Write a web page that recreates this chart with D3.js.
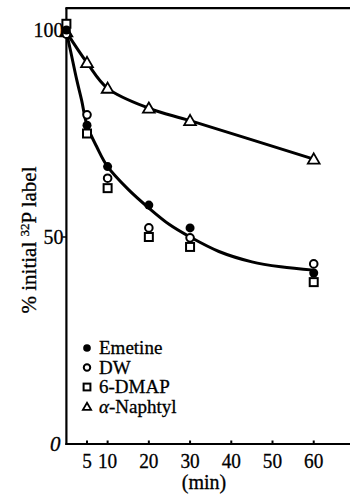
<!DOCTYPE html>
<html>
<head>
<meta charset="utf-8">
<script src="https://cdn.jsdelivr.net/npm/d3@7"></script>
<style>
  body { margin: 0; background: #fff; }
  text { font-family: "Liberation Serif", "DejaVu Serif", serif; fill: #000; stroke: #000; stroke-width: 0.3; }
</style>
</head>
<body>
<div id="chart"></div>
<script>
const width = 350;
const height = 502;

// data
const times = [0, 5, 10, 20, 30, 60];
const emetine = [100, 77, 67, 57.7, 52.2, 41.3];
const dw = [99, 79.5, 64.2, 52.2, 49.8, 43.5];
const dmap = [101.5, 75, 61.8, 50, 47.6, 39.1];
const naphtyl = [99.5, 92.1, 85.9, 81.1, 78.1, 68.8];

// fitted curve drawn through the emetine / DW / 6-DMAP points
const fitTimes = [0, 1, 2.5, 3.7, 5, 7.5, 10, 15, 20, 25, 30, 37, 45, 52, 60];
const fitValues = [99.5, 95, 88, 83, 77, 71.5, 67, 61.5, 57, 53, 50, 46.5, 44, 42.8, 42];

const xTicks = [5, 10, 20, 30, 40, 50, 60];
const yTicks = [100, 50];
const legendLabels = ["Emetine", "DW", "6-DMAP", "-Naphtyl"];

const svg = d3.select("#chart").append("svg")
    .attr("width", width)
    .attr("height", height);

const x = d3.scaleLinear().domain([0, 68.8]).range([66.4, 350]);
const y = d3.scaleLinear().domain([0, 100]).range([444, 30]);

// axes
svg.append("line")
    .attr("x1", x(0)).attr("x2", x(0))
    .attr("y1", y(105.3)).attr("y2", y(0) + 1)
    .attr("stroke", "#000").attr("stroke-width", 2.2);
svg.append("line")
    .attr("x1", x(0) - 1).attr("x2", width)
    .attr("y1", y(0)).attr("y2", y(0))
    .attr("stroke", "#000").attr("stroke-width", 2.2);
svg.append("line")
    .attr("x1", x(0) - 1).attr("x2", width)
    .attr("y1", y(105.3)).attr("y2", y(105.3))
    .attr("stroke", "#000").attr("stroke-width", 2.2);

svg.selectAll(".xtick")
  .data(xTicks)
  .join("line")
    .attr("class", "xtick")
    .attr("x1", d => x(d)).attr("x2", d => x(d))
    .attr("y1", y(0)).attr("y2", y(0) - 3.5)
    .attr("stroke", "#000").attr("stroke-width", 2);

svg.selectAll(".xlabel")
  .data(xTicks)
  .join("text")
    .attr("class", "xlabel")
    .attr("transform", d => `translate(${x(d)},468) scale(0.92,1)`)
    .attr("text-anchor", "middle")
    .style("font-size", "21px")
    .text(d => d);

svg.selectAll(".ytick")
  .data(yTicks)
  .join("line")
    .attr("class", "ytick")
    .attr("x1", x(0)).attr("x2", x(0) - 4)
    .attr("y1", d => y(d)).attr("y2", d => y(d))
    .attr("stroke", "#000").attr("stroke-width", 1.5);

svg.selectAll(".ylabel")
  .data(yTicks)
  .join("text")
    .attr("class", "ylabel")
    .attr("transform", d => `translate(${x(0) - 3},${y(d) + 7}) scale(0.95,1)`)
    .attr("text-anchor", "end")
    .style("font-size", "21px")
    .text(d => d);

svg.append("text")
    .attr("x", x(0) - 6)
    .attr("y", y(0) + 7)
    .attr("text-anchor", "end")
    .style("font-size", "21px")
    .style("font-style", "italic")
    .text("0");

svg.append("text")
    .attr("x", 204)
    .attr("y", 489)
    .attr("text-anchor", "middle")
    .style("font-size", "20px")
    .text("(min)");

const yTitle = svg.append("text")
    .attr("transform", "translate(36, 240) rotate(-90)")
    .attr("text-anchor", "middle")
    .style("font-size", "21px");
yTitle.append("tspan").text("% initial ");
yTitle.append("tspan").attr("dy", -7).style("font-size", "13px").text("32");
yTitle.append("tspan").attr("dy", 7).text("P label");

// curves
const line = d3.line()
    .curve(d3.curveCatmullRom.alpha(0.5))
    .x(d => x(d[0]))
    .y(d => y(d[1]));

svg.append("path")
    .attr("d", line(fitTimes.map((t, i) => [t, fitValues[i]])))
    .attr("fill", "none").attr("stroke", "#000").attr("stroke-width", 3);

svg.append("path")
    .attr("d", line(times.map((t, i) => [t, naphtyl[i]])))
    .attr("fill", "none").attr("stroke", "#000").attr("stroke-width", 3);

// markers
function drawMarker(g, kind, cx, cy, s) {
  if (kind === 0) {
    g.append("circle").attr("cx", cx).attr("cy", cy).attr("r", 4.5 * s).attr("fill", "#000");
  } else if (kind === 1) {
    g.append("circle").attr("cx", cx).attr("cy", cy).attr("r", 3.8 * s)
      .attr("fill", "#fff").attr("stroke", "#000").attr("stroke-width", 2);
  } else if (kind === 2) {
    const h = 4 * s;
    g.append("rect").attr("x", cx - h).attr("y", cy - h).attr("width", 2 * h).attr("height", 2 * h)
      .attr("fill", "#fff").attr("stroke", "#000").attr("stroke-width", 2);
  } else {
    const tri = d3.symbol().type(d3.symbolTriangle).size(60 * s * s);
    g.append("path").attr("d", tri).attr("transform", `translate(${cx},${cy + 1})`)
      .attr("fill", "#fff").attr("stroke", "#000").attr("stroke-width", 1.8);
  }
}

const series = [emetine, dw, dmap, naphtyl];
const markers = svg.append("g");
[3, 2, 1, 0].forEach(k => {
  times.forEach((t, i) => drawMarker(markers, k, x(t), y(series[k][i]), 1));
});

// legend
const legend = svg.append("g");
legendLabels.forEach((label, i) => {
  const ly = 348 + i * 19.5;
  drawMarker(legend, i, 87, ly, i === 3 ? 0.7 : 0.85);
  const t = legend.append("text")
    .attr("x", 99)
    .attr("y", ly + 6)
    .style("font-size", "19px");
  if (i === 3) t.append("tspan").style("font-style", "italic").text("\u03b1");
  t.append("tspan").text(label);
});
</script>
</body>
</html>
